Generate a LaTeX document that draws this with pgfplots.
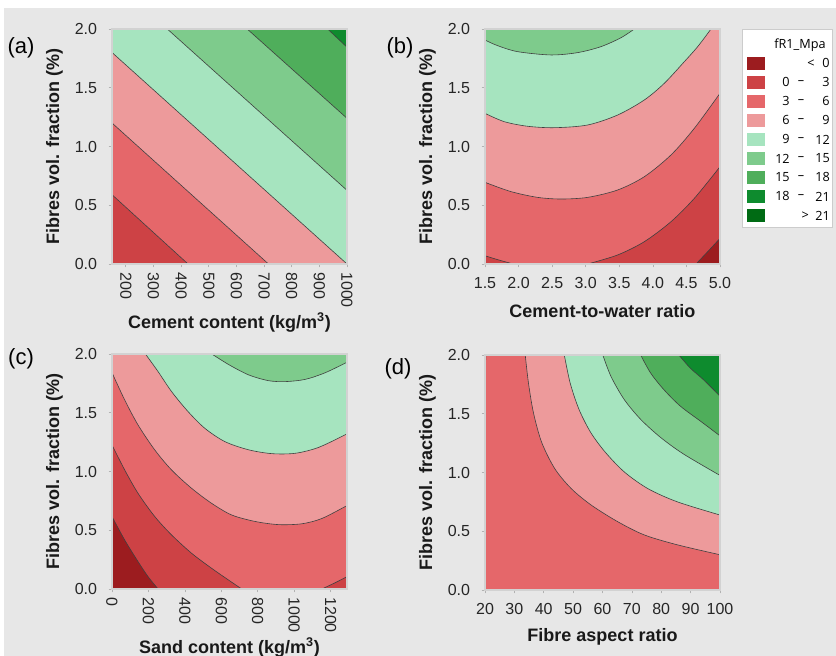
\documentclass[border=0pt]{standalone}
\usepackage{pgfplots}
\pgfplotsset{compat=1.18}
\usepackage{graphicx}
\usepackage{fontspec}
\setmainfont{Liberation Sans}
\newfontfamily\legfont{Open Sans}

\definecolor{cneg}{HTML}{9C1C1F}
\definecolor{c0}{HTML}{CD4245}
\definecolor{c3}{HTML}{E5676A}
\definecolor{c6}{HTML}{ED9A9B}
\definecolor{c9}{HTML}{A6E4BF}
\definecolor{c12}{HTML}{7ECB8C}
\definecolor{c15}{HTML}{4FAE5B}
\definecolor{c18}{HTML}{0E8B2E}
\definecolor{c21}{HTML}{006B14}
\definecolor{bgc}{HTML}{E7E7E7}

\newcommand{\tlfont}{\fontsize{12}{14}\selectfont}
\newcommand{\ttfont}{\fontsize{13.5}{16}\selectfont\bfseries}

\pgfplotsset{
  panel/.style={
    scale only axis, width=176.25pt, height=176.25pt,
    anchor=south west,
    ymin=0, ymax=2, ytick={0,0.5,1,1.5,2},
    tick pos=left, tick align=outside,
    major tick length=2.5pt,
    tick style={draw=gray!60, line width=0.5pt},
    axis line style={draw=gray!35, line width=0.8pt},
    axis on top,
    /pgf/number format/assume math mode=true,
    y tick label style={font=\tlfont, text=black!85, /pgf/number format/fixed, /pgf/number format/fixed zerofill,
      /pgf/number format/precision=1, inner sep=0pt, xshift=-8.5pt},
    every axis y label/.style={font=\ttfont, text=black!90, at={(axis description cs:-0.245,0.5)}, rotate=90, anchor=center},
    ylabel={Fibres vol. fraction (\%)},
  },
  vertlabels/.style={
    /pgf/number format/1000 sep={},
    xticklabel={\rotatebox{-90}{\pgfmathprintnumber{\tick}}},
    x tick label style={font=\tlfont, text=black!85, anchor=north, inner sep=0pt, yshift=-3.5pt},
    every axis x label/.style={font=\ttfont, text=black!90, at={(axis description cs:0.5,-0.247)}, anchor=center},
  },
  cline/.style={draw=black!75, line width=0.45pt, smooth},
}

\begin{document}
\begin{tikzpicture}
\useasboundingbox (0pt,0pt) rectangle (627pt,492pt);
\fill[white] (0pt,0pt) rectangle (627pt,492pt);
\fill[bgc] (3pt,0pt) rectangle (627pt,486pt);

% ---------------- (a)
\begin{axis}[panel, vertlabels, at={(84pt,294pt)}, axis background/.style={fill=c0},
  xmin=150, xmax=1000, xtick={200,300,400,500,600,700,800,900,1000},
  xlabel={Cement content (kg/m\textsuperscript{3})}]
\addplot[fill=c3, draw=none] coordinates {(150,0.59) (425,0) (1000,0) (1000,2) (150,2)};
\addplot[fill=c6, draw=none] coordinates {(150,1.20) (716,0) (1000,0) (1000,2) (150,2)};
\addplot[fill=c9, draw=none] coordinates {(150,1.80) (1000,0) (1000,2) (150,2)};
\addplot[fill=c12, draw=none] coordinates {(350,2) (1000,0.627) (1000,2)};
\addplot[fill=c15, draw=none] coordinates {(639,2) (1000,1.24) (1000,2)};
\addplot[fill=c18, draw=none] coordinates {(930,2) (1000,1.845) (1000,2)};
\addplot[cline] coordinates {(150,0.59) (425,0)};
\addplot[cline] coordinates {(150,1.20) (716,0)};
\addplot[cline] coordinates {(150,1.80) (1000,0)};
\addplot[cline] coordinates {(350,2) (1000,0.627)};
\addplot[cline] coordinates {(639,2) (1000,1.24)};
\addplot[cline] coordinates {(930,2) (1000,1.845)};
\end{axis}

% ---------------- (b)
\begin{axis}[panel, at={(363.75pt,294pt)}, axis background/.style={fill=c3},
  xmin=1.5, xmax=5, xtick={1.5,2,2.5,3,3.5,4,4.5,5},
  x tick label style={font=\tlfont, text=black!85, inner sep=0pt, yshift=-7.5pt,
    /pgf/number format/fixed, /pgf/number format/fixed zerofill, /pgf/number format/precision=1},
  every axis x label/.style={font=\ttfont, text=black!90, at={(axis description cs:0.5,-0.2)}, anchor=center},
  xlabel={Cement-to-water ratio}]
\addplot[fill=c0, draw=none, smooth] coordinates {(1.5,0.07) (1.7,0.035) (1.92,0)} -- (1.5,0) -- cycle;
\addplot[fill=c0, draw=none, smooth] coordinates {(3.029,0) (3.476,0.077) (3.873,0.190) (4.270,0.360) (4.618,0.559) (5,0.828)} -- (5,0) -- cycle;
\addplot[fill=cneg, draw=none, smooth] coordinates {(4.643,0) (4.817,0.105) (5,0.218)} -- (5,0) -- cycle;
\addplot[fill=c6, draw=none, smooth] coordinates {(1.5,0.695) (1.887,0.616) (2.284,0.567) (2.632,0.553) (3.029,0.567) (3.476,0.630) (3.873,0.743) (4.270,0.928) (4.618,1.155) (5,1.453)} -- (5,2) -- (1.5,2) -- cycle;
\addplot[fill=c9, draw=none, smooth] coordinates {(1.5,1.282) (1.788,1.211) (2.136,1.172) (2.533,1.160) (3.029,1.183) (3.476,1.268) (3.873,1.396) (4.171,1.538) (4.469,1.722) (4.668,1.850) (4.866,2)} -- (1.5,2) -- cycle;
\addplot[fill=c12, draw=none, smooth] coordinates {(1.5,1.906) (1.689,1.858) (1.987,1.807) (2.483,1.779) (2.880,1.799) (3.228,1.850) (3.526,1.926) (3.724,2)} -- (1.5,2) -- cycle;
\addplot[cline] coordinates {(1.5,0.07) (1.7,0.035) (1.92,0)};
\addplot[cline] coordinates {(3.029,0) (3.476,0.077) (3.873,0.190) (4.270,0.360) (4.618,0.559) (5,0.828)};
\addplot[cline] coordinates {(4.643,0) (4.817,0.105) (5,0.218)};
\addplot[cline] coordinates {(1.5,0.695) (1.887,0.616) (2.284,0.567) (2.632,0.553) (3.029,0.567) (3.476,0.630) (3.873,0.743) (4.270,0.928) (4.618,1.155) (5,1.453)};
\addplot[cline] coordinates {(1.5,1.282) (1.788,1.211) (2.136,1.172) (2.533,1.160) (3.029,1.183) (3.476,1.268) (3.873,1.396) (4.171,1.538) (4.469,1.722) (4.668,1.850) (4.866,2)};
\addplot[cline] coordinates {(1.5,1.906) (1.689,1.858) (1.987,1.807) (2.483,1.779) (2.880,1.799) (3.228,1.850) (3.526,1.926) (3.724,2)};
\end{axis}

% ---------------- (c)
\begin{axis}[panel, vertlabels, at={(84pt,50.25pt)}, axis background/.style={fill=c3},
  xmin=0, xmax=1290, xtick={0,200,400,600,800,1000,1200},
  xlabel={Sand content (kg/m\textsuperscript{3})}]
\addplot[fill=c0, draw=none, smooth] coordinates {(0,1.226) (69.7,1.013) (143,0.814) (235,0.616) (327,0.460) (437,0.304) (547,0.176) (639,0.077) (712,0)} -- (0,0) -- cycle;
\addplot[fill=cneg, draw=none, smooth] coordinates {(0,0.616) (69.7,0.417) (143,0.233) (198,0.105) (253,0)} -- (0,0) -- cycle;
\addplot[fill=c0, draw=none, smooth] coordinates {(1152,0) (1226,0.054) (1290,0.105)} -- (1290,0) -- cycle;
\addplot[fill=c6, draw=none, smooth] coordinates {(0,1.841) (69.7,1.609) (143,1.396) (235,1.183) (327,1.013) (437,0.857) (547,0.729) (657,0.630) (785,0.575) (914,0.548) (1042,0.555) (1152,0.600) (1290,0.710)} -- (1290,2) -- (0,2) -- cycle;
\addplot[fill=c9, draw=none, smooth] coordinates {(183.5,2) (253,1.850) (327,1.680) (418,1.509) (510,1.367) (620,1.254) (749,1.185) (877,1.152) (1006,1.155) (1134,1.205) (1290,1.320)} -- (1290,2) -- cycle;
\addplot[fill=c12, draw=none, smooth] coordinates {(548,2) (645,1.906) (752,1.821) (859,1.773) (951,1.765) (1061,1.784) (1171,1.841) (1290,1.930)} -- (1290,2) -- cycle;
\addplot[cline] coordinates {(0,1.226) (69.7,1.013) (143,0.814) (235,0.616) (327,0.460) (437,0.304) (547,0.176) (639,0.077) (712,0)};
\addplot[cline] coordinates {(0,0.616) (69.7,0.417) (143,0.233) (198,0.105) (253,0)};
\addplot[cline] coordinates {(1152,0) (1226,0.054) (1290,0.105)};
\addplot[cline] coordinates {(0,1.841) (69.7,1.609) (143,1.396) (235,1.183) (327,1.013) (437,0.857) (547,0.729) (657,0.630) (785,0.575) (914,0.548) (1042,0.555) (1152,0.600) (1290,0.710)};
\addplot[cline] coordinates {(183.5,2) (253,1.850) (327,1.680) (418,1.509) (510,1.367) (620,1.254) (749,1.185) (877,1.152) (1006,1.155) (1134,1.205) (1290,1.320)};
\addplot[cline] coordinates {(548,2) (645,1.906) (752,1.821) (859,1.773) (951,1.765) (1061,1.784) (1171,1.841) (1290,1.930)};
\end{axis}

% ---------------- (d)
\begin{axis}[panel, at={(363.75pt,49.5pt)}, axis background/.style={fill=c3},
  xmin=20, xmax=100, xtick={20,30,40,50,60,70,80,90,100},
  x tick label style={font=\tlfont, text=black!85, inner sep=0pt, yshift=-7.5pt},
  every axis x label/.style={font=\ttfont, text=black!90, at={(axis description cs:0.5,-0.2)}, anchor=center},
  xlabel={Fibre aspect ratio}]
\addplot[fill=c0, draw=none, smooth] coordinates {(20.25,2) (20.15,1.7) (20,1.38)} -- (20,2) -- cycle;
\addplot[fill=c6, draw=none, smooth] coordinates {(33.7,2) (34.8,1.761) (36.5,1.508) (39.3,1.256) (43.8,1.031) (49.4,0.862) (56.2,0.722) (65.2,0.581) (74.2,0.469) (85.4,0.385) (100,0.30)} -- (100,2) -- cycle;
\addplot[fill=c9, draw=none, smooth] coordinates {(47.0,2) (49.0,1.761) (52.0,1.537) (56.0,1.340) (61.0,1.171) (67.5,1.003) (75.5,0.862) (85.5,0.750) (100,0.638)} -- (100,2) -- cycle;
\addplot[fill=c12, draw=none, smooth] coordinates {(60.1,2) (62.9,1.817) (67.4,1.621) (73.0,1.452) (79.8,1.298) (87.6,1.157) (100,0.975)} -- (100,2) -- cycle;
\addplot[fill=c15, draw=none, smooth] coordinates {(73.0,2) (76.4,1.846) (80.9,1.705) (86.5,1.565) (93.3,1.438) (100,1.312)} -- (100,2) -- cycle;
\addplot[fill=c18, draw=none, smooth] coordinates {(86.0,2) (89.9,1.888) (94.4,1.789) (100,1.649)} -- (100,2) -- cycle;
\addplot[cline] coordinates {(20.25,2) (20.15,1.7) (20,1.38)};
\addplot[cline] coordinates {(33.7,2) (34.8,1.761) (36.5,1.508) (39.3,1.256) (43.8,1.031) (49.4,0.862) (56.2,0.722) (65.2,0.581) (74.2,0.469) (85.4,0.385) (100,0.30)};
\addplot[cline] coordinates {(47.0,2) (49.0,1.761) (52.0,1.537) (56.0,1.340) (61.0,1.171) (67.5,1.003) (75.5,0.862) (85.5,0.750) (100,0.638)};
\addplot[cline] coordinates {(60.1,2) (62.9,1.817) (67.4,1.621) (73.0,1.452) (79.8,1.298) (87.6,1.157) (100,0.975)};
\addplot[cline] coordinates {(73.0,2) (76.4,1.846) (80.9,1.705) (86.5,1.565) (93.3,1.438) (100,1.312)};
\addplot[cline] coordinates {(86.0,2) (89.9,1.888) (94.4,1.789) (100,1.649)};
\end{axis}

% panel letters
\node[font=\fontsize{16.5}{18}\selectfont] at (15.75pt,456pt) {(a)};
\node[font=\fontsize{16.5}{18}\selectfont] at (300pt,456pt) {(b)};
\node[font=\fontsize{16.5}{18}\selectfont] at (15.75pt,222.75pt) {(c)};
\node[font=\fontsize{16.5}{18}\selectfont] at (298.5pt,215.25pt) {(d)};

% legend
\filldraw[fill=white, draw=gray!40, line width=0.5pt] (556.5pt,321.75pt) rectangle (624pt,470.25pt);
\node[font=\legfont\fontsize{9.5}{11}\selectfont] at (600pt,457.9pt) {fR1\_Mpa};
\foreach \i/\c/\hi in {0/cneg/0, 1/c0/3, 2/c3/6, 3/c6/9, 4/c9/12, 5/c12/15, 6/c15/18, 7/c18/21, 8/c21/21}{
  \pgfmathsetmacro{\yy}{444.4-14.25*\i}
  \fill[\c] (560.25pt,\yy pt-4.875pt) rectangle (573.75pt,\yy pt+4.875pt);
  \node[font=\legfont\fontsize{9.5}{11}\selectfont, anchor=east, inner sep=0pt] at (622.5pt,\yy pt) {\hi};
}
\foreach \i/\lo in {1/0, 2/3, 3/6, 4/9, 5/12, 6/15, 7/18}{
  \pgfmathsetmacro{\yy}{444.4-14.25*\i}
  \node[font=\legfont\fontsize{9.5}{11}\selectfont, anchor=east, inner sep=0pt] at (592.5pt,\yy pt) {\lo};
  \node[font=\legfont\fontsize{9.5}{11}\selectfont, inner sep=0pt] at (600.75pt,\yy pt) {\textendash};
}
\node[font=\legfont\fontsize{9.5}{11}\selectfont, inner sep=0pt] at (608.25pt,444.4pt) {<};
\node[font=\legfont\fontsize{9.5}{11}\selectfont, inner sep=0pt] at (604pt,330.4pt) {>};
\end{tikzpicture}
\end{document}
